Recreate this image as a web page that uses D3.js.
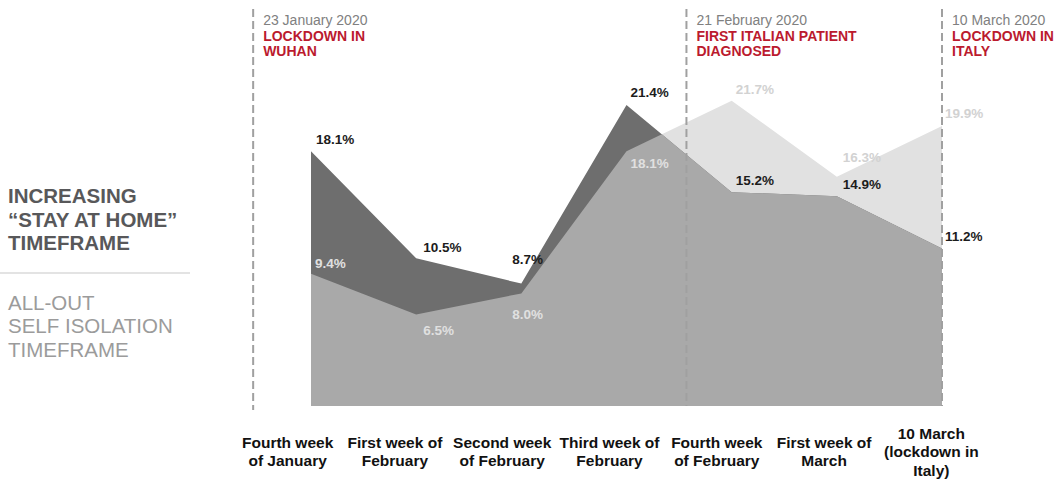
<!DOCTYPE html>
<html>
<head>
<meta charset="utf-8">
<script src="https://cdn.jsdelivr.net/npm/d3@7"></script>
<style>
  body { margin: 0; background: #fff; }
  svg { display: block; font-family: "Liberation Sans", Arial, sans-serif; }
</style>
</head>
<body>
<svg id="canvas" width="1063" height="479"></svg>
<script>
// weeks on the x axis
let categories = ['w1', 'w2', 'w3', 'w4', 'w5', 'w6', 'w7']
let tickLines = [
    ['Fourth week', 'of January'],
    ['First week of', 'February'],
    ['Second week', 'of February'],
    ['Third week of', 'February'],
    ['Fourth week', 'of February'],
    ['First week of', 'March'],
    ['10 March', '(lockdown in', 'Italy)']
]

// % of people, two series
let stayAtHome = [18.1, 10.5, 8.7, 21.4, 15.2, 14.9, 11.2]
let selfIsolation = [9.4, 6.5, 8.0, 18.1, 21.7, 16.3, 19.9]

// events (position given as index along the weeks)
let eventAt = [-0.55, 3.57, 6]
let eventDates = ['23 January 2020', '21 February 2020', '10 March 2020']
let eventTitles = [
    ['LOCKDOWN IN', 'WUHAN'],
    ['FIRST ITALIAN PATIENT', 'DIAGNOSED'],
    ['LOCKDOWN IN', 'ITALY']
]

let legendStay = ['INCREASING', '\u201CSTAY AT HOME\u201D', 'TIMEFRAME']
let legendIso = ['ALL-OUT', 'SELF ISOLATION', 'TIMEFRAME']

let canvas = d3.select('#canvas')

let baseY = 406
let x = d3.scalePoint().domain(categories).range([311, 942])
let xi = d3.scaleLinear().domain([0, 6]).range([311, 942])
let y = d3.scaleLinear().domain([0, 22]).range([baseY, baseY - 22 * 14.07])
let band = d3.scaleBand().domain(categories).range([234, 985])

let area = (values) => d3.area()
    .x((d, i) => x(categories[i]))
    .y0(baseY)
    .y1((d) => y(d))(values)

// areas: light = self isolation, dark = stay at home, overlap = medium
canvas.append('defs').append('clipPath')
    .attr('id', 'stayClip')
    .append('path')
    .attr('d', area(stayAtHome))

canvas.append('path').attr('d', area(selfIsolation)).attr('fill', '#e1e1e1')
canvas.append('path').attr('d', area(stayAtHome)).attr('fill', '#6e6e6e')
canvas.append('path').attr('d', area(selfIsolation)).attr('fill', '#a9a9a9')
    .attr('clip-path', 'url(#stayClip)')

// dashed event lines
canvas.selectAll('line.event')
    .data(eventAt)
    .enter()
    .append('line')
    .attr('class', 'event')
    .attr('x1', (d) => xi(d))
    .attr('x2', (d) => xi(d))
    .attr('y1', 9)
    .attr('y2', (d, i) => i === 0 ? 410 : baseY)
    .attr('stroke', '#a0a0a0')
    .attr('stroke-width', 2)
    .attr('stroke-dasharray', '8,4')

eventAt.forEach((d, i) => {
    let t = canvas.append('text')
        .attr('x', xi(d) + 10)
        .attr('y', 25)
        .attr('font-size', 14)
    t.append('tspan').attr('fill', '#808080').text(eventDates[i])
    eventTitles[i].forEach((line) => {
        t.append('tspan')
            .attr('x', xi(d) + 10)
            .attr('dy', 15.5)
            .attr('fill', '#bb1a2e')
            .attr('font-weight', 'bold')
            .text(line)
    })
})

// value labels
let stayOffsets = [[5, -7], [7, -6], [-9, -20], [4, -8], [4, -7], [6, -7], [3, -7]]
let isoOffsets = [[4, -6], [7, 20], [-9, 26], [4, 17], [4, -7], [6, -15], [3, -8]]

canvas.selectAll('text.stay')
    .data(stayAtHome)
    .enter()
    .append('text')
    .attr('class', 'stay')
    .attr('x', (d, i) => x(categories[i]) + stayOffsets[i][0])
    .attr('y', (d) => y(d))
    .attr('dy', (d, i) => stayOffsets[i][1])
    .attr('font-size', 13.5)
    .attr('font-weight', 'bold')
    .attr('fill', '#1c1c1c')
    .text((d) => d.toFixed(1) + '%')

canvas.selectAll('text.iso')
    .data(selfIsolation)
    .enter()
    .append('text')
    .attr('class', 'iso')
    .attr('x', (d, i) => x(categories[i]) + isoOffsets[i][0])
    .attr('y', (d) => y(d))
    .attr('dy', (d, i) => isoOffsets[i][1])
    .attr('font-size', 13.5)
    .attr('font-weight', 'bold')
    .attr('fill', (d, i) => d > stayAtHome[i] ? '#d2d2d2' : '#e0e0e0')
    .text((d) => d.toFixed(1) + '%')

// x labels
categories.forEach((c, i) => {
    let lines = tickLines[i]
    let cx = band(c) + band.bandwidth() / 2
    let first = 457 - (lines.length - 1) * 18.5 / 2
    let t = canvas.append('text')
        .attr('text-anchor', 'middle')
        .attr('font-size', 15.5)
        .attr('font-weight', 'bold')
        .attr('fill', '#111')
    lines.forEach((line, k) => {
        t.append('tspan')
            .attr('x', cx)
            .attr('y', first + k * 18.5)
            .text(line)
    })
})

// legend on the left
legendStay.forEach((line, k) => {
    canvas.append('text')
        .attr('x', 8)
        .attr('y', 203 + k * 23.7)
        .attr('font-size', 20.5)
        .attr('font-weight', 'bold')
        .attr('fill', '#58585a')
        .text(line)
})
canvas.append('line')
    .attr('x1', 0).attr('x2', 190)
    .attr('y1', 273).attr('y2', 273)
    .attr('stroke', '#dadada')
    .attr('stroke-width', 1.5)
legendIso.forEach((line, k) => {
    canvas.append('text')
        .attr('x', 8)
        .attr('y', 309.5 + k * 23.7)
        .attr('font-size', 20.5)
        .attr('fill', '#9b9b9b')
        .text(line)
})
</script>
</body>
</html>
